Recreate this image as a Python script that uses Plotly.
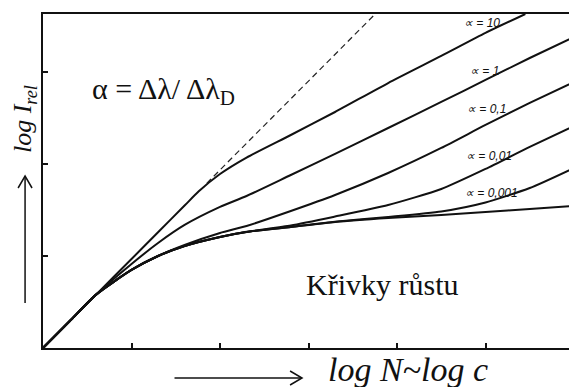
import plotly.graph_objects as go

# stranka ma body margin 8 px -> obrazek je posunuty o 8 px, kompenzujeme
OFF = 8
W, H = 577 - OFF, 387 - OFF
PL, PT, PR, PB = 43, 14, 576, 348  # plocha grafu v souradnicich okna

# log N (spolecna osa pro vsechny krivky krome alpha=10)
x_pts = [0, 0.3, 0.6, 1.0, 1.3, 1.6, 2.0, 2.3, 2.8, 3.3, 3.9, 4.5, 5.0, 5.5, 6.0]

# log I_rel pro jednotlive hodnoty alpha
y_a0 = [0, 0.29, 0.58, 0.848, 1.0, 1.109, 1.207, 1.261, 1.315, 1.370, 1.413, 1.446, 1.478, 1.511, 1.543]
y_a0001 = [0, 0.29, 0.58, 0.848, 1.0, 1.109, 1.207, 1.261, 1.315, 1.372, 1.424, 1.484, 1.582, 1.739, 1.957]
y_a001 = [0, 0.29, 0.58, 0.848, 1.0, 1.109, 1.207, 1.263, 1.332, 1.429, 1.554, 1.728, 1.946, 2.185, 2.413]
y_a01 = [0, 0.29, 0.58, 0.848, 1.0, 1.12, 1.25, 1.326, 1.489, 1.663, 1.902, 2.174, 2.424, 2.663, 2.891]
y_a1 = [0, 0.29, 0.58, 0.913, 1.141, 1.337, 1.533, 1.652, 1.880, 2.109, 2.391, 2.674, 2.913, 3.152, 3.380]

x_a10 = [0, 0.6, 1.0, 1.3, 1.6, 1.76, 2.0, 2.3, 2.8, 3.3, 3.9, 4.5, 5.0, 5.45]
y_a10 = [0, 0.58, 0.967, 1.258, 1.548, 1.703, 1.891, 2.07, 2.315, 2.565, 2.880, 3.174, 3.424, 3.630]

# linearni cast (prodlouzena carkovane)
x_lin = [1.85, 3.76]
y_lin = [1.79, 3.636]

x_ticks = [1, 2, 3, 4, 5]
y_ticks = [1, 2, 3]

alpha_labels = ["∝ = 10", "∝ = 1", "∝ = 0,1", "∝ = 0,01", "∝ = 0,001"]


def px(x):
    return (x - PL) / (PR - PL)


def py(y):
    return (PB - y) / (PB - PT)


SERIF = "Liberation Serif"
line = dict(color="#111111", width=2, shape="spline", smoothing=0.6)

fig = go.Figure()
for y in [y_a0, y_a0001, y_a001, y_a01, y_a1]:
    fig.add_trace(go.Scatter(x=x_pts, y=y, mode="lines", line=line, hoverinfo="skip"))
fig.add_trace(go.Scatter(x=x_a10, y=y_a10, mode="lines", line=line, hoverinfo="skip"))
fig.add_trace(go.Scatter(x=x_lin, y=y_lin, mode="lines",
                         line=dict(color="#222222", width=1.2, dash="6px,4px"), hoverinfo="skip"))


def note(x, y, text, size, family=SERIF, **kw):
    return dict(x=px(x), y=py(y), xref="paper", yref="paper", text=text, showarrow=False,
                xanchor="center", yanchor="middle", font=dict(family=family, size=size, color="#111"), **kw)


# popisky krivek
label_pos = [(484, 23), (486, 71), (488, 109), (491, 156), (493, 193)]
annotations = [note(lx, ly, f"<i>{txt}</i>", 12, family="Liberation Sans")
               for txt, (lx, ly) in zip(alpha_labels, label_pos)]

annotations += [
    note(164, 91, "α = Δλ/ Δλ<sub>D</sub>", 30),
    note(384, 284, "Křivky růstu", 30),
    note(24, 119, "<i>log I<sub>rel</sub></i>", 26, textangle=-90),
    note(409, 369, "<i>log N~log c</i>", 34),
]

# sipky u os
arrow = dict(color="#111111", width=1.5)
shapes = [
    dict(type="line", xref="paper", yref="paper", x0=px(25), y0=py(303), x1=px(25), y1=py(176), line=arrow),
    dict(type="path", xref="paper", yref="paper",
         path=f"M {px(18)} {py(188)} L {px(25)} {py(176)} L {px(32)} {py(188)}", line=arrow),
    dict(type="line", xref="paper", yref="paper", x0=px(175), y0=py(378), x1=px(303), y1=py(378), line=arrow),
    dict(type="path", xref="paper", yref="paper",
         path=f"M {px(291)} {py(371)} L {px(303)} {py(378)} L {px(291)} {py(385)}", line=arrow),
]

axis = dict(showgrid=False, zeroline=False, showline=True, mirror=True, linecolor="#111111",
            linewidth=2, ticks="inside", ticklen=5, tickwidth=1.5, tickcolor="#111111",
            showticklabels=False, fixedrange=True)

fig.update_layout(
    width=W, height=H,
    margin=dict(l=PL - OFF, r=W - (PR - OFF), t=PT - OFF, b=H - (PB - OFF)),
    paper_bgcolor="white", plot_bgcolor="white",
    showlegend=False,
    xaxis=dict(axis, range=[0, 6], tickvals=x_ticks),
    yaxis=dict(axis, range=[0, 3.63], tickvals=y_ticks),
    annotations=annotations,
    shapes=shapes,
)

fig.write_html("out.html")
